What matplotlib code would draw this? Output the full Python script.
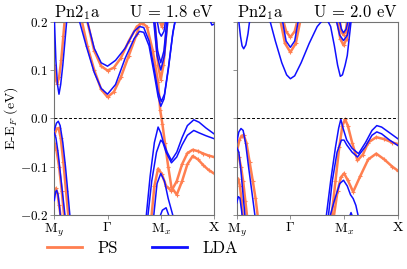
import matplotlib
matplotlib.use("Agg")
import matplotlib.pyplot as plt
from matplotlib.lines import Line2D
from matplotlib.ticker import FuncFormatter

plt.rcParams['font.family'] = 'serif'
plt.rcParams['font.serif'] = ['cmr10', 'DejaVu Serif']
plt.rcParams['mathtext.fontset'] = 'cm'
plt.rcParams['axes.formatter.use_mathtext'] = True

# k-path: M_y=0, Gamma=1, M_x=2, X=3
kpath_pos = [0, 1, 2, 3]
kpath_labels = [r'$\mathrm{M}_y$', r'$\Gamma$', r'$\mathrm{M}_x$', r'$\mathrm{X}$']
panel_titles = [r'$\mathrm{U}$ = 1.8 eV', r'$\mathrm{U}$ = 2.0 eV']

# ---- left panel, U = 1.8 eV ----
# LDA bands (k, E)
l_lda_c1 = ([0.0, 0.03, 0.06, 0.088, 0.12, 0.16, 0.2, 0.24],
            [0.21, 0.12, 0.07, 0.05, 0.07, 0.11, 0.16, 0.21])
l_lda_c2 = ([0.45, 0.6, 0.75, 0.88, 1.0, 1.15, 1.33, 1.5, 1.6, 1.68, 1.78, 1.88, 1.95, 2.0, 2.06, 2.14, 2.22, 2.28],
            [0.21, 0.15, 0.095, 0.062, 0.05, 0.07, 0.124, 0.165, 0.18, 0.178, 0.15, 0.09, 0.045, 0.025, 0.04, 0.1, 0.17, 0.21])
l_lda_c3 = ([0.6, 0.75, 0.88, 1.0, 1.15, 1.33, 1.5, 1.6, 1.68, 1.78, 1.88, 1.95, 2.01, 2.07, 2.15, 2.23, 2.29],
            [0.21, 0.145, 0.115, 0.108, 0.12, 0.145, 0.18, 0.19, 0.188, 0.16, 0.1, 0.055, 0.035, 0.05, 0.11, 0.18, 0.21])
l_lda_c4 = ([1.86, 1.93, 2.0, 2.07, 2.14], [0.21, 0.13, 0.1, 0.13, 0.21])
l_lda_c4b = ([1.88, 1.94, 2.0, 2.06, 2.12], [0.21, 0.14, 0.115, 0.14, 0.21])
l_lda_c5 = ([1.92, 1.97, 2.01, 2.06, 2.1], [0.21, 0.178, 0.17, 0.18, 0.21])
l_lda_c6 = ([2.9, 2.96, 3.0], [0.21, 0.193, 0.195])
l_lda_v1 = ([0.0, 0.04, 0.075, 0.11, 0.16, 0.21, 0.26, 0.3],
            [-0.025, -0.01, -0.006, -0.015, -0.05, -0.1, -0.16, -0.21])
l_lda_v2 = ([0.0, 0.03, 0.07, 0.12, 0.17, 0.21], [-0.03, -0.04, -0.07, -0.12, -0.17, -0.21])
l_lda_v3 = ([0.0, 0.025, 0.045, 0.07, 0.1, 0.12], [-0.17, -0.152, -0.149, -0.158, -0.185, -0.21])
l_lda_v4 = ([1.72, 1.8, 1.88, 1.95, 2.0, 2.05, 2.12, 2.2, 2.3, 2.4, 2.5, 2.62, 2.72, 2.85, 3.0],
            [-0.21, -0.12, -0.05, -0.018, -0.03, -0.05, -0.07, -0.087, -0.07, -0.04, -0.015, -0.003, -0.008, -0.02, -0.032])
l_lda_v5 = ([1.75, 1.83, 1.92, 2.0, 2.04, 2.1, 2.2, 2.3, 2.4, 2.5, 2.62, 2.72, 2.85, 3.0],
            [-0.21, -0.13, -0.07, -0.045, -0.05, -0.07, -0.092, -0.08, -0.055, -0.035, -0.025, -0.03, -0.036, -0.042])
l_lda_v6 = ([1.86, 1.93, 2.0, 2.07, 2.14, 2.2, 2.25], [-0.21, -0.135, -0.114, -0.13, -0.166, -0.19, -0.21])
l_lda_v7 = ([1.96, 2.03, 2.1, 2.18], [-0.21, -0.19, -0.185, -0.21])

# PS bands (k, E)
l_ps_c1 = ([0.0, 0.03, 0.055, 0.09, 0.13, 0.17, 0.2], [0.11, 0.08, 0.072, 0.085, 0.12, 0.17, 0.21])
l_ps_c2 = ([0.5, 0.62, 0.75, 0.88, 1.0, 1.12, 1.25, 1.4, 1.55, 1.65],
           [0.21, 0.15, 0.1, 0.06, 0.044, 0.055, 0.085, 0.13, 0.175, 0.21])
l_ps_c3 = ([0.6, 0.75, 0.88, 1.0, 1.12, 1.25, 1.4, 1.55, 1.65, 1.74, 1.85, 1.95, 1.99, 2.03, 2.08, 2.14, 2.2,
            2.3, 2.4, 2.5, 2.6, 2.7, 2.8, 2.9, 3.0],
           [0.21, 0.14, 0.108, 0.099, 0.105, 0.125, 0.16, 0.19, 0.197, 0.19, 0.14, 0.075, 0.017, -0.011, -0.052,
            -0.1, -0.142, -0.158, -0.13, -0.095, -0.078, -0.085, -0.097, -0.107, -0.114])
l_ps_c4 = ([1.88, 1.95, 2.0, 2.05, 2.13], [0.21, 0.11, 0.08, 0.11, 0.21])
l_ps_c5 = ([1.95, 2.02, 2.1], [0.21, 0.19, 0.21])
l_ps_v1 = ([0.0, 0.04, 0.08, 0.12, 0.17, 0.22, 0.27], [-0.035, -0.022, -0.02, -0.04, -0.09, -0.15, -0.21])
l_ps_v2 = ([0.0, 0.04, 0.09, 0.14, 0.19], [-0.05, -0.065, -0.1, -0.15, -0.21])
l_ps_v3 = ([0.0, 0.03, 0.06, 0.09, 0.13], [-0.15, -0.145, -0.155, -0.18, -0.21])
l_ps_v4 = ([1.82, 1.88, 1.95, 2.02, 2.1, 2.2, 2.3, 2.4, 2.5, 2.6, 2.7, 2.8, 2.9, 3.0],
           [-0.21, -0.14, -0.104, -0.115, -0.14, -0.15, -0.13, -0.095, -0.072, -0.065, -0.068, -0.073, -0.077, -0.08])

# ---- right panel, U = 2.0 eV ----
r_lda_c1 = ([0.03, 0.07, 0.1, 0.13, 0.17, 0.21, 0.25], [0.21, 0.17, 0.15, 0.144, 0.152, 0.175, 0.21])
r_lda_c2 = ([0.6, 0.72, 0.84, 0.93, 1.0, 1.08, 1.2, 1.35, 1.5, 1.6, 1.68, 1.75, 1.82, 1.88, 1.93, 1.97, 2.02, 2.06, 2.1, 2.14],
            [0.21, 0.16, 0.115, 0.09, 0.082, 0.088, 0.115, 0.155, 0.19, 0.203, 0.205, 0.19, 0.15, 0.11, 0.087, 0.09, 0.11, 0.13, 0.17, 0.21])
r_lda_c3 = ([0.84, 0.92, 1.0, 1.08, 1.16], [0.21, 0.16, 0.147, 0.16, 0.21])
r_lda_c4 = ([1.84, 1.92, 1.99, 2.06, 2.13], [0.21, 0.172, 0.161, 0.172, 0.21])
r_lda_c5 = ([1.9, 1.95, 1.99, 2.04, 2.09], [0.21, 0.185, 0.177, 0.185, 0.21])
r_lda_v1 = ([0.0, 0.04, 0.08, 0.12, 0.17, 0.22, 0.28, 0.35],
            [-0.05, -0.028, -0.021, -0.025, -0.055, -0.1, -0.15, -0.21])
r_lda_v2 = ([0.0, 0.04, 0.08, 0.12, 0.16], [-0.06, -0.07, -0.11, -0.16, -0.21])
r_lda_v3 = ([0.0, 0.03, 0.06, 0.09, 0.11], [-0.175, -0.162, -0.165, -0.19, -0.21])
r_lda_v4 = ([1.66, 1.75, 1.84, 1.9, 1.94, 1.98, 2.05, 2.15, 2.27, 2.4, 2.52, 2.61, 2.7, 2.85, 3.0],
            [-0.21, -0.13, -0.06, -0.02, -0.002, -0.02, -0.045, -0.062, -0.073, -0.05, -0.025, -0.015, -0.018, -0.03, -0.042])
r_lda_v5 = ([1.7, 1.78, 1.87, 1.95, 2.0, 2.05, 2.15, 2.25, 2.4, 2.52, 2.61, 2.7, 2.85, 3.0],
            [-0.21, -0.13, -0.07, -0.045, -0.045, -0.055, -0.07, -0.08, -0.058, -0.035, -0.028, -0.032, -0.045, -0.056])
r_lda_v6 = ([1.72, 1.82, 1.92, 1.99, 2.06, 2.12, 2.17, 2.22, 2.28],
            [-0.21, -0.17, -0.135, -0.128, -0.14, -0.158, -0.166, -0.18, -0.21])
r_lda_v7 = ([2.08, 2.13, 2.18], [-0.21, -0.195, -0.21])

r_ps_c1 = ([0.85, 0.92, 1.0, 1.08, 1.15], [0.21, 0.18, 0.168, 0.18, 0.21])
r_ps_c2 = ([0.8, 0.9, 1.0, 1.1, 1.2], [0.21, 0.155, 0.137, 0.155, 0.21])
r_ps_c3 = ([1.86, 1.93, 1.99, 2.05, 2.12], [0.21, 0.165, 0.151, 0.165, 0.21])
r_ps_c4 = ([1.91, 1.95, 1.99, 2.03, 2.07], [0.21, 0.18, 0.172, 0.18, 0.21])
r_ps_v1 = ([0.0, 0.05, 0.09, 0.13, 0.18, 0.24, 0.3, 0.35, 0.4],
           [-0.07, -0.045, -0.036, -0.035, -0.05, -0.09, -0.13, -0.165, -0.21])
r_ps_v2 = ([0.0, 0.04, 0.08, 0.12, 0.16, 0.2], [-0.07, -0.08, -0.1, -0.13, -0.17, -0.21])
r_ps_v3 = ([0.0, 0.03, 0.06, 0.09, 0.12], [-0.13, -0.125, -0.14, -0.17, -0.21])
r_ps_v4 = ([1.76, 1.84, 1.91, 1.97, 2.02, 2.07, 2.15, 2.25, 2.35, 2.45, 2.6, 2.75, 2.9, 3.0],
           [-0.21, -0.13, -0.06, -0.015, -0.002, -0.015, -0.05, -0.087, -0.075, -0.05, -0.039, -0.043, -0.05, -0.053])
r_ps_v5 = ([1.8, 1.88, 1.94, 2.0, 2.07, 2.17, 2.3, 2.45, 2.6, 2.75, 2.9, 3.0],
           [-0.21, -0.15, -0.122, -0.114, -0.128, -0.152, -0.12, -0.085, -0.073, -0.085, -0.1, -0.108])

left_lda = [l_lda_c1, l_lda_c2, l_lda_c3, l_lda_c4, l_lda_c4b, l_lda_c5, l_lda_c6,
            l_lda_v1, l_lda_v2, l_lda_v3, l_lda_v4, l_lda_v5, l_lda_v6, l_lda_v7]
left_ps = [l_ps_c1, l_ps_c2, l_ps_c3, l_ps_c4, l_ps_c5, l_ps_v1, l_ps_v2, l_ps_v3, l_ps_v4]
right_lda = [r_lda_c1, r_lda_c2, r_lda_c3, r_lda_c4, r_lda_c5,
             r_lda_v1, r_lda_v2, r_lda_v3, r_lda_v4, r_lda_v5, r_lda_v6, r_lda_v7]
right_ps = [r_ps_c1, r_ps_c2, r_ps_c3, r_ps_c4, r_ps_v1, r_ps_v2, r_ps_v3, r_ps_v4, r_ps_v5]

PS_COLOR = '#ff7f50'
LDA_COLOR = '#1010ff'

fig = plt.figure(figsize=(4.07, 2.69), dpi=100)
ax1 = fig.add_axes([0.1334, 0.2007, 0.3924, 0.7186])
ax2 = fig.add_axes([0.5816, 0.2007, 0.3956, 0.7186])

for ax, ps, lda, ttl in [(ax1, left_ps, left_lda, panel_titles[0]),
                         (ax2, right_ps, right_lda, panel_titles[1])]:
    for k, e in ps:
        ax.plot(k, e, color=PS_COLOR, lw=1.8, marker='+', ms=3.5, mew=0.8,
                solid_joinstyle='round', zorder=2)
    for k, e in lda:
        ax.plot(k, e, color=LDA_COLOR, lw=1.1, solid_joinstyle='round', zorder=3)
    ax.axhline(0, color='k', ls='--', lw=0.7, dashes=(3, 2), zorder=4)
    ax.set_xlim(0, 3)
    ax.set_ylim(-0.2, 0.2)
    ax.set_xticks(kpath_pos)
    ax.set_xticklabels(kpath_labels, fontsize=10)
    ax.set_yticks([-0.2, -0.1, 0.0, 0.1, 0.2])
    ax.tick_params(length=3, width=0.6, color='0.5', pad=1.5)
    for sp in ax.spines.values():
        sp.set_color('0.45')
        sp.set_linewidth(0.8)
    ax.set_title(r'Pn2$_1$a', loc='left', fontsize=12, pad=2)
    ax.set_title(ttl, loc='right', fontsize=12, pad=2)

ax1.yaxis.set_major_formatter(FuncFormatter(lambda v, p: r'$%.1f$' % v))
ax1.tick_params(axis='y', labelsize=9.5)
ax2.set_yticklabels([])
ax1.set_ylabel(r'E-E$_F$ (eV)', fontsize=10)
ax1.yaxis.set_label_coords(-0.215, 0.5)

handles = [Line2D([], [], color=PS_COLOR, lw=2), Line2D([], [], color=LDA_COLOR, lw=2)]
fig.legend(handles, ['PS', 'LDA'], loc='center', bbox_to_anchor=(0.35, 0.078), ncol=2,
           frameon=False, fontsize=12, handlelength=2.1, handletextpad=0.9, columnspacing=2.1)

fig.savefig('out.png', dpi=100)
